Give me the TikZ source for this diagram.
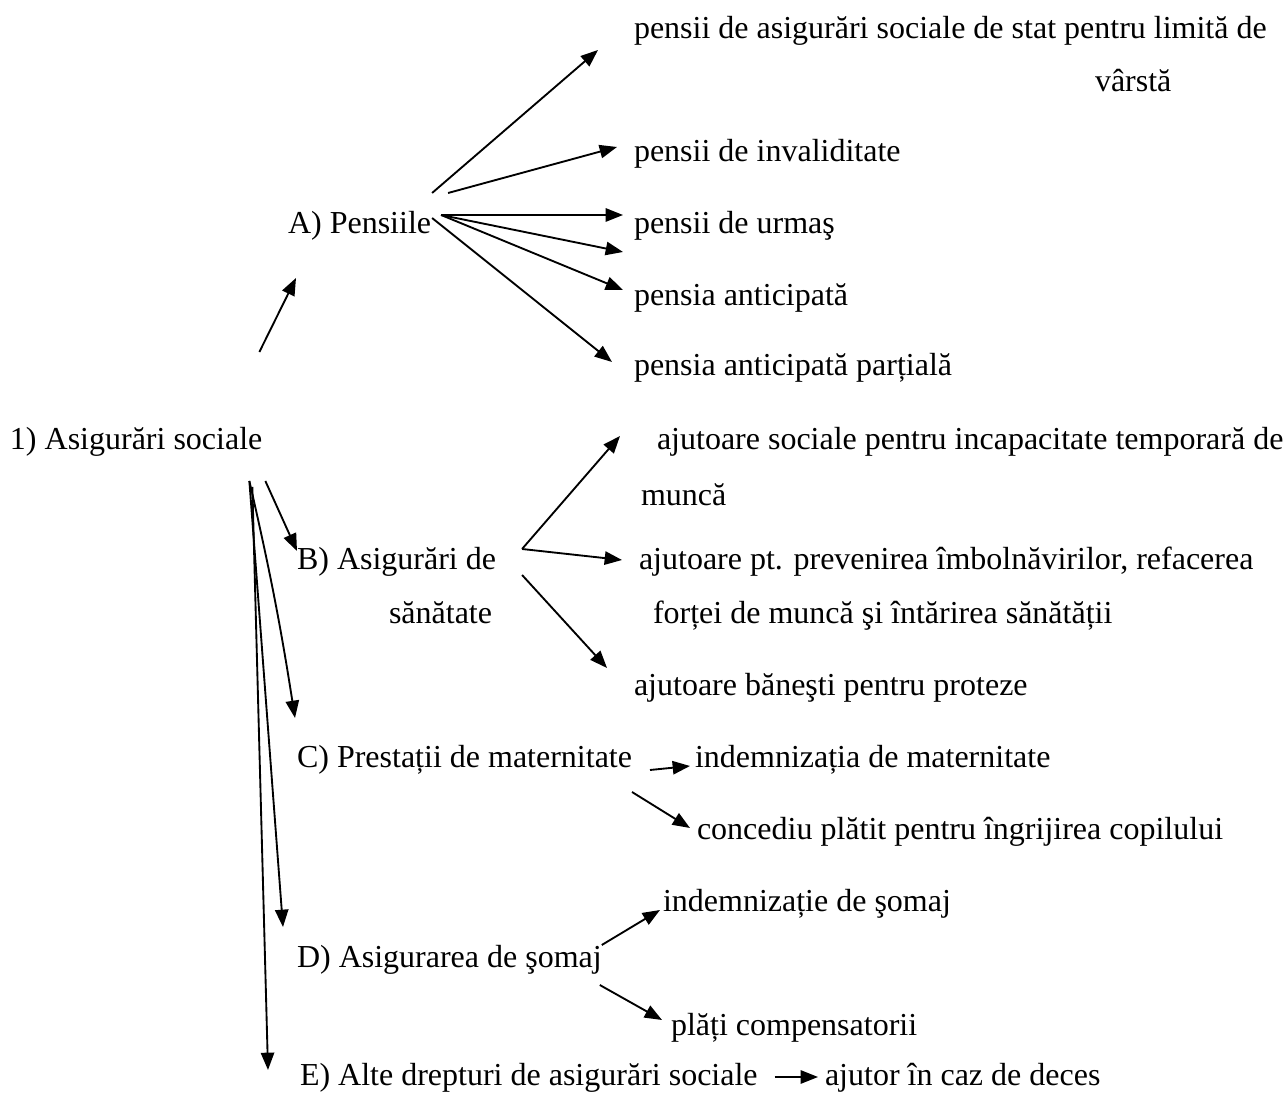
\documentclass[tikz,border=0pt]{standalone}
\usepackage{fontspec}
\setmainfont{Liberation Serif}
\usetikzlibrary{arrows.meta,calc}

\begin{document}
\begin{tikzpicture}
  [
    x=0.375pt, y=-0.375pt,
    lbl/.style =
      {anchor=west, inner sep=0pt, outer sep=0pt, text height=0.7em,
       text depth=0.22em, font=\fontsize{12}{14}\selectfont},
    arr/.style =
      {-{Triangle[length=6.5pt, width=5pt]}, line width=0.7pt}
  ]
  \useasboundingbox (0,0) rectangle (1286,1096);

  \node [lbl] at (10, 443)  (root) {1) Asigurări sociale};

  \node [lbl] at (288, 227) (pA)   {A) Pensiile};
  \node [lbl] at (634, 32)  (pA1)  {pensii de asigurări sociale de stat pentru limită de};
  \node [lbl] at (1095, 85) (pA1b) {vârstă};
  \node [lbl] at (634, 155) (pA2)  {pensii de invaliditate};
  \node [lbl] at (634, 227) (pA3)  {pensii de urmaş};
  \node [lbl] at (634, 299) (pA4)  {pensia anticipată};
  \node [lbl] at (634, 369) (pA5)  {pensia anticipată parțială};

  \node [lbl] at (297, 563) (pB)   {B) Asigurări de};
  \node [lbl] at (389, 617) (pBb)  {sănătate};
  \node [lbl] at (657, 443) (pB1)  {ajutoare sociale pentru incapacitate temporară de};
  \node [lbl] at (641, 499) (pB1b) {muncă};
  \node [lbl] at (639, 563) (pB2)  {ajutoare pt. prevenirea îmbolnăvirilor, refacerea};
  \node [lbl] at (653, 617) (pB2b) {forței de muncă şi întărirea sănătății};
  \node [lbl] at (634, 689) (pB3)  {ajutoare băneşti pentru proteze};

  \node [lbl] at (297, 761) (pC)   {C) Prestații de maternitate};
  \node [lbl] at (695, 761) (pC1)  {indemnizația de maternitate};
  \node [lbl] at (697, 833) (pC2)  {concediu plătit pentru îngrijirea copilului};

  \node [lbl] at (297, 961) (pD)   {D) Asigurarea de şomaj};
  \node [lbl] at (663, 905) (pD1)  {indemnizație de şomaj};
  \node [lbl] at (671, 1029) (pD2) {plăți compensatorii};

  \node [lbl] at (300, 1079) (pE)  {E) Alte drepturi de asigurări sociale};
  \node [lbl] at (825, 1079) (pE1) {ajutor în caz de deces};

  % from the root
  \draw [arr] ($(root.east)+(-3,-91)$) -- ($(pA.west)+(8,51)$);
  \draw [arr] ($(root.east)+(3,38)$)   -- ($(pB.west)+(0,-12)$);
  \draw [arr] ($(root.east)+(-13,38)$) to [bend left=2] ($(pC.west)+(-2,-43)$);
  \draw [arr] ($(root.east)+(-13,38)$) -- ($(pD.west)+(-14,-34)$);
  \draw [arr] ($(root.east)+(-10,44)$) -- ($(pE.west)+(-32,-9)$);

  % pensions
  \draw [arr] ($(pA.east)+(1,-34)$)  -- ($(pA1.west)+(-36,18)$);
  \draw [arr] ($(pA.east)+(17,-34)$) -- ($(pA2.west)+(-17,-8)$);
  \draw [arr] ($(pA.east)+(10,-12)$) -- ($(pA3.west)+(-11,-12)$);
  \draw [arr] ($(pA.east)+(10,-12)$) -- ($(pA3.west)+(-11,25)$);
  \draw [arr] ($(pA.east)+(10,-12)$) -- ($(pA4.west)+(-11,-9)$);
  \draw [arr] ($(pA.east)+(1,-9)$)   -- ($(pA5.west)+(-22,-7)$);

  % health
  \draw [arr] ($(pB.east)+(26,-14)$) -- ($(pB1.west)+(-37,-7)$);
  \draw [arr] ($(pB.east)+(26,-14)$) -- ($(pB2.west)+(-17,-3)$);
  \draw [arr] ($(pB.east)+(26,12)$)  -- ($(pB3.west)+(-27,-21)$);

  % maternity
  \draw [arr] ($(pC.east)+(18,9)$) -- ($(pC1.west)+(-5,5)$);
  \draw [arr] ($(pC.east)+(0,31)$) -- ($(pC2.west)+(-7,-5)$);

  % unemployment
  \draw [arr] ($(pD.east)+(0,-16)$) -- ($(pD1.west)+(-3,5)$);
  \draw [arr] ($(pD.east)+(-2,24)$) -- ($(pD2.west)+(-9,-9)$);

  % other rights
  \draw [arr] ($(pE.east)+(17,-2)$) -- ($(pE1.west)+(-7,-2)$);

\end{tikzpicture}
\end{document}
